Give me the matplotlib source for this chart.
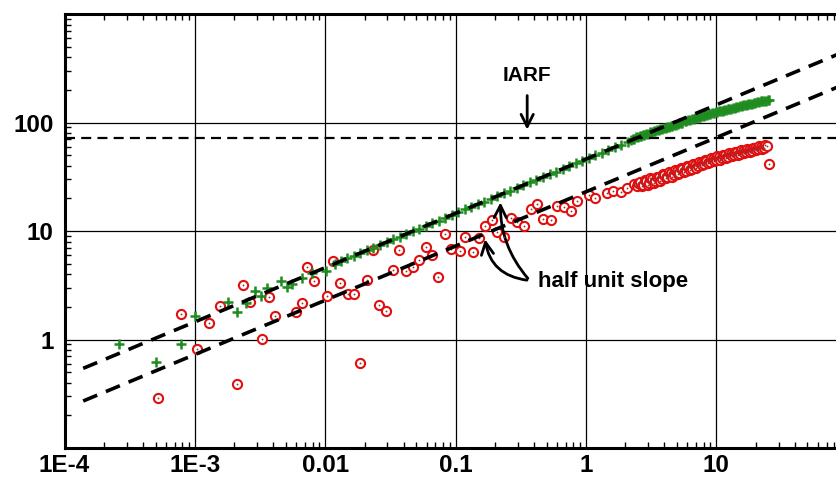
import matplotlib
matplotlib.use("Agg")
import matplotlib.pyplot as plt
from matplotlib.ticker import LogLocator, NullFormatter

plt.rcParams['font.family'] = ['Liberation Sans', 'DejaVu Sans']

# ---- measured data -------------------------------------------------------
# derivative curve of the first well (green crosses): early scatter and
# half-slope section
green_t = [2.6e-4, 5.0e-4, 7.8e-4, 1.0e-3, 1.81e-3, 2.1e-3, 2.46e-3, 2.88e-3,
           3.2e-3, 3.6e-3, 4.6e-3, 5.1e-3, 5.6e-3, 6.6e-3, 7.95e-3, 0.0102,
           0.0118, 0.0132, 0.0148, 0.0166, 0.0186, 0.0209, 0.0234, 0.0263,
           0.0295, 0.0331, 0.0372, 0.0417, 0.0468, 0.0525, 0.0589, 0.0661,
           0.0741, 0.0832, 0.0933, 0.105, 0.118, 0.132, 0.148, 0.166, 0.186,
           0.209, 0.234, 0.263, 0.295, 0.331, 0.372, 0.417, 0.468, 0.525,
           0.589, 0.661, 0.741, 0.832, 0.933, 1.05, 1.18, 1.32, 1.48, 1.66,
           1.86, 2.09]
green_dp = [0.91, 0.62, 0.90, 1.64, 2.21, 1.78, 2.18, 2.78,
            2.50, 3.00, 3.43, 3.07, 3.24, 3.66, 4.10, 4.30,
            5.00, 5.28, 5.60, 5.93, 6.27, 6.65, 7.04, 7.46,
            7.90, 8.37, 8.87, 9.39, 9.95, 10.5, 11.2, 11.8,
            12.5, 13.3, 14.1, 14.9, 15.8, 16.7, 17.7, 18.7, 19.8,
            21.0, 22.3, 23.6, 25.0, 26.5, 28.1, 29.7, 31.5, 33.3,
            35.3, 37.4, 39.6, 42.0, 44.4, 47.1, 50.0, 52.9, 56.0, 59.3,
            62.7, 66.5]
# late-time section of the first well
green_tail_t = [2.2, 2.28, 2.35, 2.43, 2.5, 2.58, 2.65, 2.73, 2.8, 2.9,
                3.0, 3.1, 3.2, 3.3, 3.4, 3.5, 3.6, 3.72, 3.85, 3.97,
                4.1, 4.22, 4.35, 4.48, 4.6, 4.75, 4.9, 5.05, 5.2, 5.35,
                5.5, 5.7, 5.9, 6.1, 6.3, 6.5, 6.7, 6.9, 7.1, 7.3,
                7.5, 7.75, 8.0, 8.25, 8.5, 8.75, 9.0, 9.3, 9.6, 9.9,
                10.2, 10.5, 10.8, 11.15, 11.5, 11.85, 12.2, 12.6, 13.0, 13.4,
                13.8, 14.25, 14.7, 15.15, 15.6, 16.1, 16.6, 17.1, 17.6, 18.15,
                18.7, 19.3, 19.9, 20.5, 21.2, 21.85, 22.5, 23.2, 24.0, 24.7,
                25.4]
green_tail_dp = [69, 70.5, 71, 73, 73.5, 75, 75.5, 77, 77, 79,
                 79, 81, 81.5, 83, 83, 85, 85, 87, 87, 89,
                 89.5, 91.5, 91.5, 93.5, 93.5, 95.5, 95.5, 97.5, 98, 100,
                 100, 102.5, 102.5, 105, 105, 107.5, 108, 110, 110, 112,
                 112.5, 114.5, 115, 117, 117, 119, 119.5, 121.5, 122, 124,
                 124.5, 126.5, 127, 129, 129.5, 131.5, 132, 134, 134.5, 136.5,
                 137, 139, 139.5, 141.5, 142, 144, 144.5, 146.5, 147, 149,
                 149.5, 151.5, 152, 154, 154.5, 156.5, 157, 159, 159.5, 161.5,
                 162]

# derivative curve of the second well (red circles)
red_t = [5.2e-4, 7.8e-4, 1.04e-3, 1.29e-3, 1.57e-3, 2.1e-3, 2.32e-3, 2.65e-3,
         3.27e-3, 3.72e-3, 4.1e-3, 5.95e-3, 6.6e-3, 7.3e-3, 8.2e-3, 0.0103,
         0.0115, 0.013, 0.015, 0.0166, 0.0184, 0.021, 0.0232, 0.026, 0.029,
         0.0331, 0.0368, 0.0414, 0.0474, 0.0524, 0.0589, 0.0663, 0.0736,
         0.0824, 0.0927, 0.108, 0.119, 0.136, 0.151, 0.167, 0.191, 0.209,
         0.235, 0.267, 0.297, 0.334, 0.376, 0.423, 0.47, 0.535, 0.601, 0.676,
         0.77, 0.855, 1.05, 1.18, 1.44, 1.62, 1.84, 2.07, 2.33]
red_dp = [0.286, 1.72, 0.81, 1.42, 2.05, 0.39, 3.15, 2.24,
          1.02, 2.45, 1.65, 1.80, 2.18, 4.70, 3.47, 2.50,
          5.34, 3.31, 2.64, 2.64, 0.61, 3.55, 6.70, 2.10, 1.82,
          4.38, 6.70, 4.30, 4.70, 5.42, 7.08, 6.03, 3.73,
          9.30, 6.84, 6.56, 8.87, 6.46, 8.57, 11.1, 12.7, 9.86,
          8.87, 13.2, 12.0, 11.2, 16.1, 17.6, 12.8, 12.6, 16.9, 16.5,
          15.3, 18.8, 21.4, 20.2, 22.4, 23.4, 22.7, 24.7, 27.4]
red_tail_t = [2.45, 2.52, 2.6, 2.68, 2.75, 2.82, 2.9, 2.98, 3.05, 3.12,
              3.2, 3.3, 3.4, 3.5, 3.6, 3.7, 3.8, 3.9, 4.0, 4.1,
              4.2, 4.32, 4.45, 4.58, 4.7, 4.82, 4.95, 5.07, 5.2, 5.35,
              5.5, 5.65, 5.8, 5.95, 6.1, 6.27, 6.45, 6.62, 6.8, 7.0,
              7.2, 7.4, 7.6, 7.8, 8.0, 8.2, 8.4, 8.65, 8.9, 9.15,
              9.4, 9.65, 9.9, 10.15, 10.4, 10.7, 11.0, 11.3, 11.6, 11.9,
              12.2, 12.55, 12.9, 13.25, 13.6, 13.95, 14.3, 14.7, 15.1, 15.5,
              15.9, 16.35, 16.8, 17.25, 17.7, 18.2, 18.7, 19.2, 19.7, 20.25,
              20.8, 21.35, 21.9, 22.5, 23.1, 23.7, 24.3, 25.5]
red_tail_dp = [25.8, 27.6, 28.2, 26.0, 26.5, 29.5, 28.9, 26.8, 27.6, 30.5,
               30.1, 28.0, 28.8, 31.8, 31.2, 29.2, 30.0, 33.2, 32.6, 30.6,
               31.4, 34.8, 34.0, 31.8, 32.8, 36.2, 35.6, 33.4, 34.4, 38.0,
               37.4, 35.0, 36.0, 39.6, 38.8, 36.6, 37.6, 41.4, 40.8, 38.4,
               39.5, 43.4, 42.6, 40.2, 41.4, 45.4, 44.6, 42.2, 43.2, 47.2,
               46.4, 43.8, 45.0, 48.8, 48.2, 45.6, 46.8, 50.6, 49.8, 47.4,
               48.6, 52.2, 51.4, 49.0, 50.2, 53.8, 53.0, 50.6, 51.8, 55.4,
               54.6, 52.2, 53.4, 57.0, 56.2, 53.8, 55.0, 58.6, 57.8, 55.4,
               56.6, 60.4, 59.6, 57.0, 58.2, 62.0, 61.2, 41.8]

# straight-line model features
iarf_level = 72.0                 # radial-flow stabilisation
half_slope_coef = [46.0, 23.0]    # y = C * t**0.5
line_t = [1.39e-4, 100.0]

x_ticks = [1e-4, 1e-3, 1e-2, 1e-1, 1, 10, 100]
x_labels = ['1E-4', '1E-3', '0.01', '0.1', '1', '10', '']
y_ticks = [0.1, 1, 10, 100, 1000]
y_labels = ['', '1', '10', '100', '']

# ---- figure ---------------------------------------------------------------
fig = plt.figure(figsize=(8.36, 4.79), dpi=100)
ax = fig.add_axes([0.0772, 0.0647, 0.9356, 0.906])
ax.set_xscale('log')
ax.set_yscale('log')
ax.set_xlim(1e-4, 100)
ax.set_ylim(0.1, 1000)

ax.set_xticks(x_ticks, x_labels)
ax.set_yticks(y_ticks, y_labels)
ax.xaxis.set_minor_locator(LogLocator(base=10, subs=range(2, 10), numticks=20))
ax.yaxis.set_minor_locator(LogLocator(base=10, subs=range(2, 10), numticks=20))
ax.xaxis.set_minor_formatter(NullFormatter())
ax.yaxis.set_minor_formatter(NullFormatter())
ax.tick_params(which='major', length=0, labelsize=17.5)
ax.tick_params(axis='x', which='major', pad=4)
ax.tick_params(axis='y', which='major', pad=8)
ax.tick_params(which='minor', direction='in', length=4, width=1,
               top=True, right=False, color='black')
for lab in ax.get_xticklabels() + ax.get_yticklabels():
    lab.set_fontweight('bold')

ax.grid(True, which='major', color='black', lw=0.9)
for side in ['left', 'top', 'bottom']:
    ax.spines[side].set_linewidth(2.2)
ax.spines['right'].set_visible(False)

# data
red_all_t = red_t + red_tail_t
red_all_dp = red_dp + red_tail_dp
green_all_t = green_t + green_tail_t
green_all_dp = green_dp + green_tail_dp

ax.plot(red_all_t, red_all_dp, linestyle='none', marker='o', ms=6.6,
        mfc='white', mec='#e01010', mew=1.5, zorder=3)
ax.plot(red_all_t, red_all_dp, linestyle='none', marker='o', ms=1.3,
        mfc='#903030', mec='none', zorder=3.1)
ax.plot(green_all_t, green_all_dp, linestyle='none', marker='+', ms=7.5,
        color='#1e8c1e', mew=1.8, zorder=4)

# model lines
for c in half_slope_coef:
    ax.plot(line_t, [c * t ** 0.5 for t in line_t], color='black',
            lw=2.6, dashes=(4.2, 2.6), zorder=5)
ax.axhline(iarf_level, color='black', lw=1.6, dashes=(4.5, 2.8), zorder=5)

# annotations
ax.text(0.35, 270, 'IARF', fontsize=15, fontweight='bold', ha='center',
        va='center')
ax.annotate('', xy=(0.354, 81), xytext=(0.354, 188),
            arrowprops=dict(arrowstyle='->', lw=2.0, color='black',
                            mutation_scale=22))
ax.text(0.432, 3.4, 'half unit slope', fontsize=16, fontweight='bold',
        ha='left', va='center')
ax.annotate('', xy=(0.221, 19.5), xytext=(0.37, 3.5),
            arrowprops=dict(arrowstyle='->', lw=2.0, color='black',
                            mutation_scale=22,
                            connectionstyle='arc3,rad=-0.2'))
ax.annotate('', xy=(0.167, 8.9), xytext=(0.37, 3.5),
            arrowprops=dict(arrowstyle='->', lw=2.0, color='black',
                            mutation_scale=22,
                            connectionstyle='arc3,rad=-0.4'))

fig.savefig('out.png', dpi=100)
